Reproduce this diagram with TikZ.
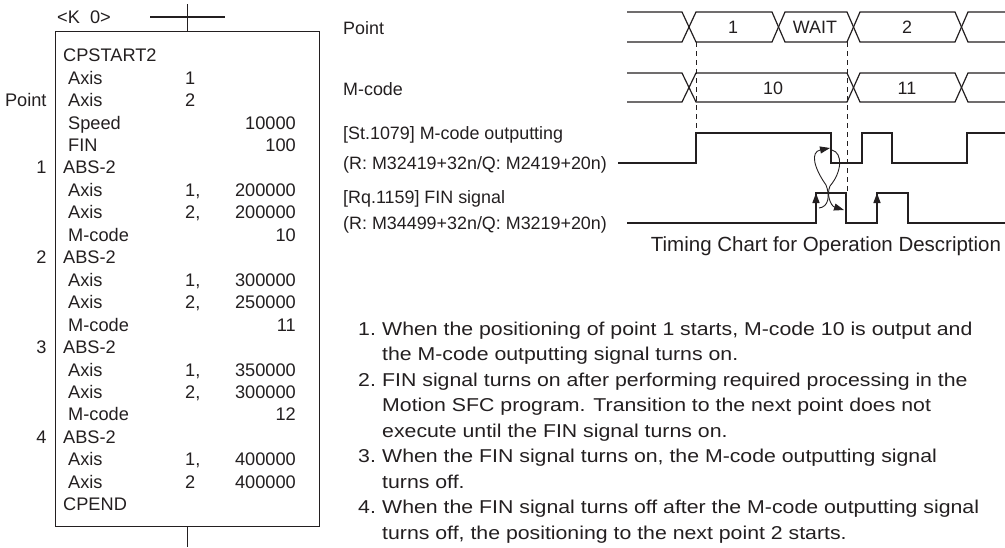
\documentclass[tikz,border=0pt]{standalone}
\usepackage{fontspec}
\setmainfont{Liberation Sans}
\newfontfamily\fuentelista[FakeStretch=1.144]{Liberation Sans}
\usetikzlibrary{arrows.meta}
\definecolor{tinta}{HTML}{231F20}
\tikzset{
  senal/.style={line width=1.4pt, draw=tinta},
  bus/.style={line width=1.2pt, draw=tinta},
  guia/.style={line width=0.9pt, draw=tinta, dash pattern=on 5pt off 4pt},
  bucle/.style={line width=0.9pt, draw=tinta, -{Triangle[length=10pt,width=7pt]}},
  flecha/.style={line width=1.4pt, draw=tinta, -{Triangle[length=10pt,width=7pt]}},
  txt/.style={inner sep=0pt, text=tinta, font=\fontsize{17.9}{20}\selectfont},
  prg/.style={inner sep=0pt, text=tinta, font=\fontsize{18.2}{20}\selectfont},
  lista/.style={inner sep=0pt, text=tinta, anchor=base west, font=\fuentelista\fontsize{18.6}{24}\selectfont},
  titul/.style={inner sep=0pt, text=tinta, font=\fontsize{20.5}{24}\selectfont},
}

\begin{document}
\begin{tikzpicture}[x=1pt, y=-1pt]
\useasboundingbox (0,0) rectangle (1005,547);
% Programa
\node[draw=tinta, line width=1.2pt, minimum width=264pt, minimum height=495pt, inner sep=0pt, anchor=north west] (prog) at (55,31) {};
\coordinate (kIzq) at (150,17);
\coordinate (kDer) at (225,17);
\draw[bus] (prog.north) -- (prog.north |- 0,4);
\draw[bus] (kIzq) -- (kDer);
\draw[bus] (prog.south) -- (prog.south |- 0,547);
\node[prg, anchor=base west] (kcero) at (57,23.6) {<K\ \ 0>};
\foreach \f/\k in {0/CPSTART2, 5/ABS-2, 9/ABS-2, 13/ABS-2, 17/ABS-2, 20/CPEND}
  \node[prg, anchor=base west] (kw\f) at (63,{61.7+22.45*\f}) {\k};
\foreach \f/\p/\n/\v in {1/Axis/1/, 2/Axis/2/, 3/Speed//10000, 4/FIN//100,
    6/Axis/{1,}/200000, 7/Axis/{2,}/200000, 8/M-code//10,
    10/Axis/{1,}/300000, 11/Axis/{2,}/250000, 12/M-code//11,
    14/Axis/{1,}/350000, 15/Axis/{2,}/300000, 16/M-code//12,
    18/Axis/{1,}/400000, 19/Axis/2/400000}{
  \node[prg, anchor=base west] (par\f) at (68,{61.7+22.45*\f}) {\p};
  \node[prg, anchor=base west] (num\f) at (185,{61.7+22.45*\f}) {\n};
  \node[prg, anchor=base east] (val\f) at (296,{61.7+22.45*\f}) {\v};
}
\foreach \f/\t in {2/Point, 5/1, 9/2, 13/3, 17/4}
  \node[prg, anchor=base east] (pt\f) at (46.7,{61.7+22.45*\f}) {\t};

% Etiquetas
\node[txt, anchor=base west] (lPoint) at (343,34) {Point};
\node[txt, anchor=base west] (lMcode) at (343,95) {M-code};
\node[txt, anchor=base west] (lOut) at (343,139.5) {[St.1079] M-code outputting};
\node[txt, anchor=base west] (lOutDev) at (343,169.5) {(R: M32419+32n/Q: M2419+20n)};
\node[txt, anchor=base west] (lFin) at (343,203) {[Rq.1159] FIN signal};
\node[txt, anchor=base west] (lFinDev) at (343,229.5) {(R: M34499+32n/Q: M3219+20n)};

% Point
\draw[bus] (627,12) -- (682,12) -- (696,42) -- (772,42) -- (785,12) -- (847,12) -- (860,42) -- (955,42) -- (968,12) -- (1005,12);
\draw[bus] (627,42) -- (682,42) -- (696,12) -- (772,12) -- (785,42) -- (847,42) -- (860,12) -- (955,12) -- (968,42) -- (1005,42);
\node[txt, anchor=base] (p1) at (733,33.3) {1};
\node[txt, anchor=base] (pWait) at (815,33.3) {WAIT};
\node[txt, anchor=base] (p2) at (907,33.3) {2};
% M-code
\draw[bus] (627,73) -- (682,73) -- (696,102) -- (847,102) -- (860,73) -- (955,73) -- (968,102) -- (1005,102);
\draw[bus] (627,102) -- (682,102) -- (696,73) -- (847,73) -- (860,102) -- (955,102) -- (968,73) -- (1005,73);
\node[txt, anchor=base] (m10) at (773,94.5) {10};
\node[txt, anchor=base] (m11) at (907,94.5) {11};
% Senales
\draw[senal] (618,163) -- (696,163) -- (696,133) -- (831,133) -- (831,163) -- (862,163) -- (862,133) -- (892,133) -- (892,163) -- (967,163) -- (967,133) -- (1005,133);
\draw[senal] (627,223) -- (816,223) -- (816,193) -- (846,193) -- (846,223) -- (877,223) -- (877,193) -- (908,193) -- (908,223) -- (1005,223);
\draw[guia] (696,42) -- (696,133);
\draw[guia] (847,42) -- (847,193);
\draw[flecha] (816,216) -- (816,193);
\draw[flecha] (877,216) -- (877,193);
\draw[bucle] (819,208) .. controls (829,207) and (830,195) .. (826,185) .. controls (814,168) and (810,152) .. (830,148);
\draw[bucle] (832,150) .. controls (843,153) and (842,172) .. (830,186) .. controls (826,195) and (831,206) .. (844,210);
\node[titul, anchor=base] (titulo) at (826,251) {Timing Chart for Operation Description};

% Descripcion
\node[lista] (n1) at (358,335) {1.};
\node[lista] (t1a) at (382,335) {When the positioning of point 1 starts, M-code 10 is output and};
\node[lista] (t1b) at (382,360.5) {the M-code outputting signal turns on.};
\node[lista] (n2) at (358,386) {2.};
\node[lista] (t2a) at (382,386) {FIN signal turns on after performing required processing in the};
\node[lista] (t2b) at (382,411.5) {Motion SFC program. Transition to the next point does not};
\node[lista] (t2c) at (382,437) {execute until the FIN signal turns on.};
\node[lista] (n3) at (358,462.5) {3.};
\node[lista] (t3a) at (382,462.5) {When the FIN signal turns on, the M-code outputting signal};
\node[lista] (t3b) at (382,488) {turns off.};
\node[lista] (n4) at (358,513.5) {4.};
\node[lista] (t4a) at (382,513.5) {When the FIN signal turns off after the M-code outputting signal};
\node[lista] (t4b) at (382,539) {turns off, the positioning to the next point 2 starts.};
\end{tikzpicture}
\end{document}
